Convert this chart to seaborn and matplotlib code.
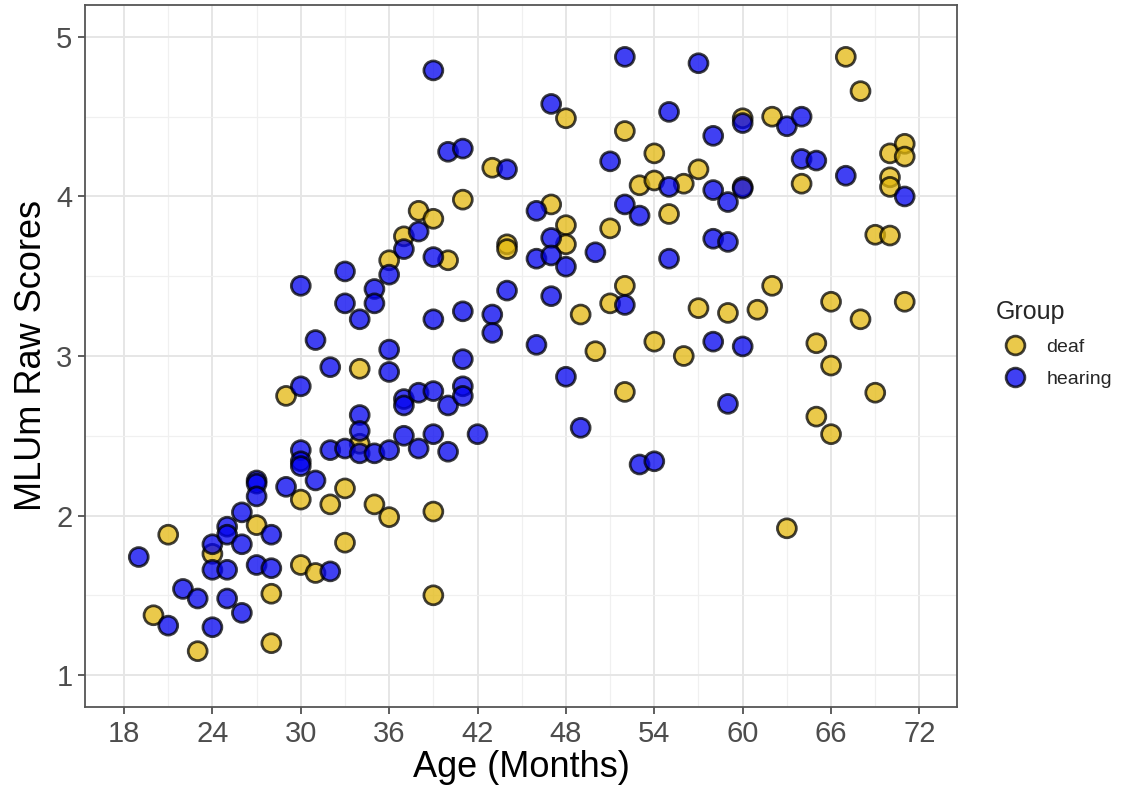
import numpy as np
import pandas as pd
import matplotlib
matplotlib.use("Agg")
import matplotlib.pyplot as plt
import seaborn as sns
from matplotlib.ticker import MultipleLocator

# ---- data ----
deaf_age = [20, 21, 23, 24, 27, 28, 28, 29, 30, 30, 31, 32, 33, 33, 34, 34, 35, 36, 36,
            37, 38, 39, 39, 39, 40, 41, 43, 44, 44, 47, 48, 48, 48, 49, 50, 51, 51, 52,
            52, 52, 53, 54, 54, 54, 55, 56, 56, 57, 57, 59, 60, 60, 61, 62, 62, 63, 64,
            65, 65, 66, 66, 66, 67, 68, 68, 69, 69, 70, 70, 70, 70, 71, 71, 71]
deaf_mlu = [1.375, 1.88, 1.15, 1.76, 1.94, 1.51, 1.20, 2.75, 2.10, 1.69, 1.64, 2.07, 2.17,
            1.83, 2.92, 2.45, 2.07, 1.99, 3.60, 3.75, 3.91, 3.86, 2.025, 1.50, 3.60, 3.98,
            4.18, 3.70, 3.67, 3.95, 4.49, 3.82, 3.70, 3.26, 3.03, 3.80, 3.33, 4.41, 3.44,
            2.775, 4.07, 4.27, 4.10, 3.09, 3.89, 4.08, 3.00, 4.17, 3.30, 3.27, 4.49, 4.06,
            3.29, 4.50, 3.44, 1.92, 4.08, 3.08, 2.62, 3.34, 2.94, 2.51, 4.875, 4.66, 3.23,
            3.76, 2.77, 4.27, 4.12, 4.06, 3.755, 4.33, 4.25, 3.34]

hearing_age = [19, 21, 22, 23, 24, 24, 24, 25, 25, 25, 25, 26, 26, 26, 27, 27, 27, 27, 28,
               28, 29, 30, 30, 30, 30, 30, 31, 31, 32, 32, 32, 33, 33, 33, 34, 34, 34, 34,
               35, 35, 35, 36, 36, 36, 36, 37, 37, 37, 37, 38, 38, 38, 39, 39, 39, 39, 39,
               40, 40, 40, 41, 41, 41, 41, 41, 42, 43, 43, 44, 44, 46, 46, 46, 47, 47, 47,
               47, 48, 48, 49, 50, 51, 52, 52, 52, 53, 53, 54, 55, 55, 55, 57, 58, 58, 58,
               58, 59, 59, 59, 60, 60, 60, 63, 64, 64, 65, 67, 71]
hearing_mlu = [1.74, 1.31, 1.54, 1.48, 1.82, 1.66, 1.30, 1.93, 1.88, 1.66, 1.48, 2.02, 1.82,
               1.39, 2.22, 2.20, 2.12, 1.69, 1.88, 1.67, 2.18, 3.44, 2.81, 2.41, 2.34, 2.31,
               3.10, 2.22, 2.93, 2.41, 1.65, 3.53, 3.33, 2.42, 3.23, 2.63, 2.53, 2.39, 3.42,
               3.33, 2.39, 3.51, 3.04, 2.90, 2.41, 3.67, 2.73, 2.69, 2.50, 3.78, 2.77, 2.42,
               4.79, 3.62, 3.23, 2.78, 2.51, 4.28, 2.69, 2.40, 4.30, 3.28, 2.98, 2.81, 2.75,
               2.51, 3.26, 3.145, 4.17, 3.41, 3.91, 3.61, 3.07, 4.58, 3.74, 3.63, 3.375, 3.56,
               2.87, 2.55, 3.65, 4.22, 4.875, 3.95, 3.32, 3.88, 2.32, 2.34, 4.53, 4.06, 3.61,
               4.835, 4.38, 4.04, 3.735, 3.09, 3.965, 3.715, 2.70, 4.46, 4.05, 3.06, 4.44,
               4.50, 4.235, 4.225, 4.13, 4.00]

groups = ["deaf", "hearing"]
x_ticks = [18, 24, 30, 36, 42, 48, 54, 60, 66, 72]
y_ticks = [1, 2, 3, 4, 5]

df = pd.DataFrame({
    "Age": deaf_age + hearing_age,
    "MLU": deaf_mlu + hearing_mlu,
    "Group": [groups[0]] * len(deaf_age) + [groups[1]] * len(hearing_age),
})

sns.set_theme(style="white")
plt.rcParams["font.family"] = ["Liberation Sans", "DejaVu Sans"]

W, H = 1130, 791
fig = plt.figure(figsize=(W / 100, H / 100), dpi=100)
ax = fig.add_axes([85 / W, 1 - 707 / H, (957 - 85) / W, (707 - 5) / H])

palette = {"deaf": "#E3B80E", "hearing": "#0000F0"}
sns.scatterplot(data=df, x="Age", y="MLU", hue="Group", hue_order=groups,
                palette=palette, s=185, alpha=0.75, edgecolor="black",
                linewidth=2.0, ax=ax, zorder=3)

ax.set_xlim(15.35, 74.55)
ax.set_ylim(0.80, 5.20)
ax.set_xticks(x_ticks)
ax.set_yticks(y_ticks)
ax.xaxis.set_minor_locator(MultipleLocator(3))
ax.yaxis.set_minor_locator(MultipleLocator(0.5))
ax.grid(which="major", color="#E6E6E6", linewidth=1.4, zorder=0)
ax.grid(which="minor", color="#F0F0F0", linewidth=0.9, zorder=0)
ax.set_axisbelow(True)
for sp in ax.spines.values():
    sp.set_color("#555555")
    sp.set_linewidth(1.3)
ax.tick_params(which="major", length=5, width=1.1, color="#333333",
               labelsize=21, labelcolor="#4D4D4D", pad=4, bottom=True, left=True)
ax.tick_params(which="minor", length=0)
ax.set_xlabel("Age (Months)", fontsize=26, color="black", labelpad=2)
ax.set_ylabel("MLUm Raw Scores", fontsize=26, color="black", labelpad=5)

handles, labels = ax.get_legend_handles_labels()
ax.legend_.remove() if ax.legend_ else None
leg = ax.legend(handles, labels, title="Group", loc="upper left",
                bbox_to_anchor=(988 / W, 1 - 292 / H), bbox_transform=fig.transFigure,
                frameon=False, fontsize=14, title_fontsize=18, labelspacing=0.75,
                handletextpad=0.6, borderaxespad=0)
leg._legend_box.align = "left"
for h in leg.legend_handles:
    try:
        h.set_markersize(13.5)
        h.set_markeredgewidth(2.0)
    except Exception:
        pass

fig.savefig("out.png", dpi=100)
